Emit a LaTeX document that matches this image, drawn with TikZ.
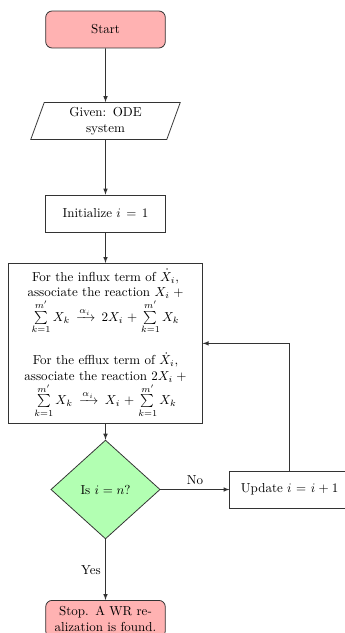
\documentclass[tikz,border=0pt]{standalone}
\usepackage{amsmath}
\usetikzlibrary{shapes.geometric,arrows}
\begin{document}
\begin{tikzpicture}[x=0.7692pt,y=-0.7692pt,
  base/.style={draw=black!80,semithick,minimum width=3cm,minimum height=1cm,text width=3cm,align=center,font=\normalsize},
  startstop/.style={base,rounded corners=5pt,fill=red!30},
  io/.style={base,trapezium,trapezium left angle=70,trapezium right angle=110,text width=3cm,minimum width=0pt},
  process/.style={base},
  bigbox/.style={draw=black!80,semithick,text width=5cm,align=center,inner ysep=4.5pt},
  decision/.style={draw=black!80,semithick,diamond,fill=green!30,minimum width=84pt,minimum height=76pt,inner sep=0pt},
  arr/.style={draw=black!80,semithick,-latex}]
\useasboundingbox (0,0) rectangle (345,633);
\node[startstop] (start) at (105.5,29.5) {Start};
\node[io] (given) at (105.5,121) {Given: ODE system};
\node[process] (init) at (105.5,213.5) {Initialize $i=1$};
\node[bigbox,anchor=north] (assoc) at (105.5,263) {For the influx term of $\dot{X}_i$, associate the reaction $X_i+\sum\limits_{k=1}^{m'}X_k\xrightarrow{\alpha_i}2X_i+\sum\limits_{k=1}^{m'}X_k$\\[13pt]
For the efflux term of $\dot{X}_i$, associate the reaction $2X_i+\sum\limits_{k=1}^{m'}X_k\xrightarrow{\alpha_i}X_i+\sum\limits_{k=1}^{m'}X_k$};
\node[decision] (dec) at (105.5,489.5) {Is $i=n$?};
\node[process] (upd) at (289.7,489.5) {Update $i=i+1$};
\node[startstop,anchor=north] (stop) at (105.5,600) {Stop. A WR realization is found.};
\draw[arr] (start) -- (given);
\draw[arr] (given) -- (init);
\draw[arr] (init) -- (assoc);
\draw[arr] (assoc) -- (dec);
\draw[arr] (dec) -- node[above] {No} (upd);
\draw[arr] (dec) -- node[left] {Yes} (stop);
\draw[arr] (upd.north) |- (assoc.east);
\end{tikzpicture}
\end{document}
